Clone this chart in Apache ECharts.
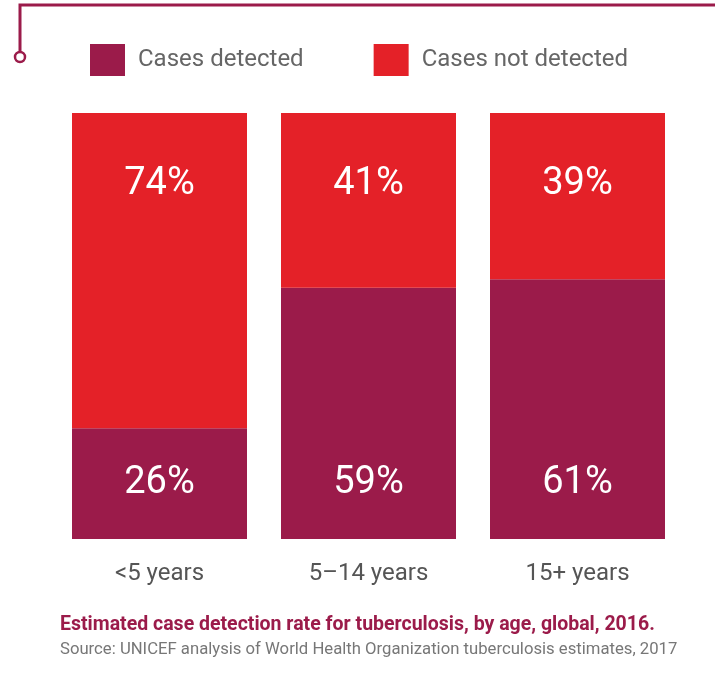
<!DOCTYPE html>
<html><head><meta charset="utf-8">
<script src="https://cdn.jsdelivr.net/npm/echarts@6/dist/echarts.min.js"></script>
<style>html,body{margin:0;padding:0;background:#fff}#c{width:715px;height:677px}</style>
</head><body><div id="c"></div>
<script>
const categories = ['<5 years', '5–14 years', '15+ years'];
const detected = [26, 59, 61];
const notDetected = [74, 41, 39];
const seriesNames = ['Cases detected', 'Cases not detected'];
const caption = 'Estimated case detection rate for tuberculosis, by age, global, 2016.';
const source = 'Source: UNICEF analysis of World Health Organization tuberculosis estimates, 2017';

const DARK = '#9B1B4A', RED = '#E42128';
const chart = echarts.init(document.getElementById('c'));
chart.setOption({
  animation: false,
  textStyle: { fontFamily: 'Roboto' },
  legend: {
    left: 85, top: 39, itemWidth: 35, itemHeight: 32, itemGap: 70, icon: 'rect',
    textStyle: { fontSize: 24, color: '#666', padding: [5, 0, 0, 8], fontFamily: 'Roboto' },
    data: seriesNames
  },
  grid: { left: 55, right: 33, top: 113, bottom: 138 },
  xAxis: {
    type: 'category', data: categories,
    axisLine: { show: false }, axisTick: { show: false },
    axisLabel: { fontSize: 24, color: '#555', margin: 23, fontFamily: 'Roboto' }
  },
  yAxis: { type: 'value', min: 0, max: 100, show: false, splitLine: { show: false } },
  series: [
    { name: seriesNames[0], type: 'bar', stack: 's', data: detected, barWidth: 175,
      itemStyle: { color: DARK },
      label: { show: true, position: 'insideBottom', distance: 37, formatter: '{c}%', color: '#fff', fontSize: 38, fontFamily: 'Roboto' } },
    { name: seriesNames[1], type: 'bar', stack: 's', data: notDetected, barWidth: 175,
      itemStyle: { color: RED },
      label: { show: true, position: 'insideTop', distance: 52, formatter: '{c}%', color: '#fff', fontSize: 38, fontFamily: 'Roboto' } }
  ],
  graphic: [
    { type: 'polyline', shape: { points: [[20, 52], [20, 5], [715, 5]] }, style: { stroke: DARK, lineWidth: 3, fill: null } },
    { type: 'circle', shape: { cx: 20, cy: 57, r: 5 }, style: { fill: '#fff', stroke: DARK, lineWidth: 2.5 } },
    { type: 'text', left: 60, top: 615, style: { text: caption, fill: DARK, font: 'bold 19.5px Roboto' } },
    { type: 'text', left: 60, top: 641, style: { text: source, fill: '#777', font: '16.7px Roboto' } }
  ]
});
</script></body></html>
